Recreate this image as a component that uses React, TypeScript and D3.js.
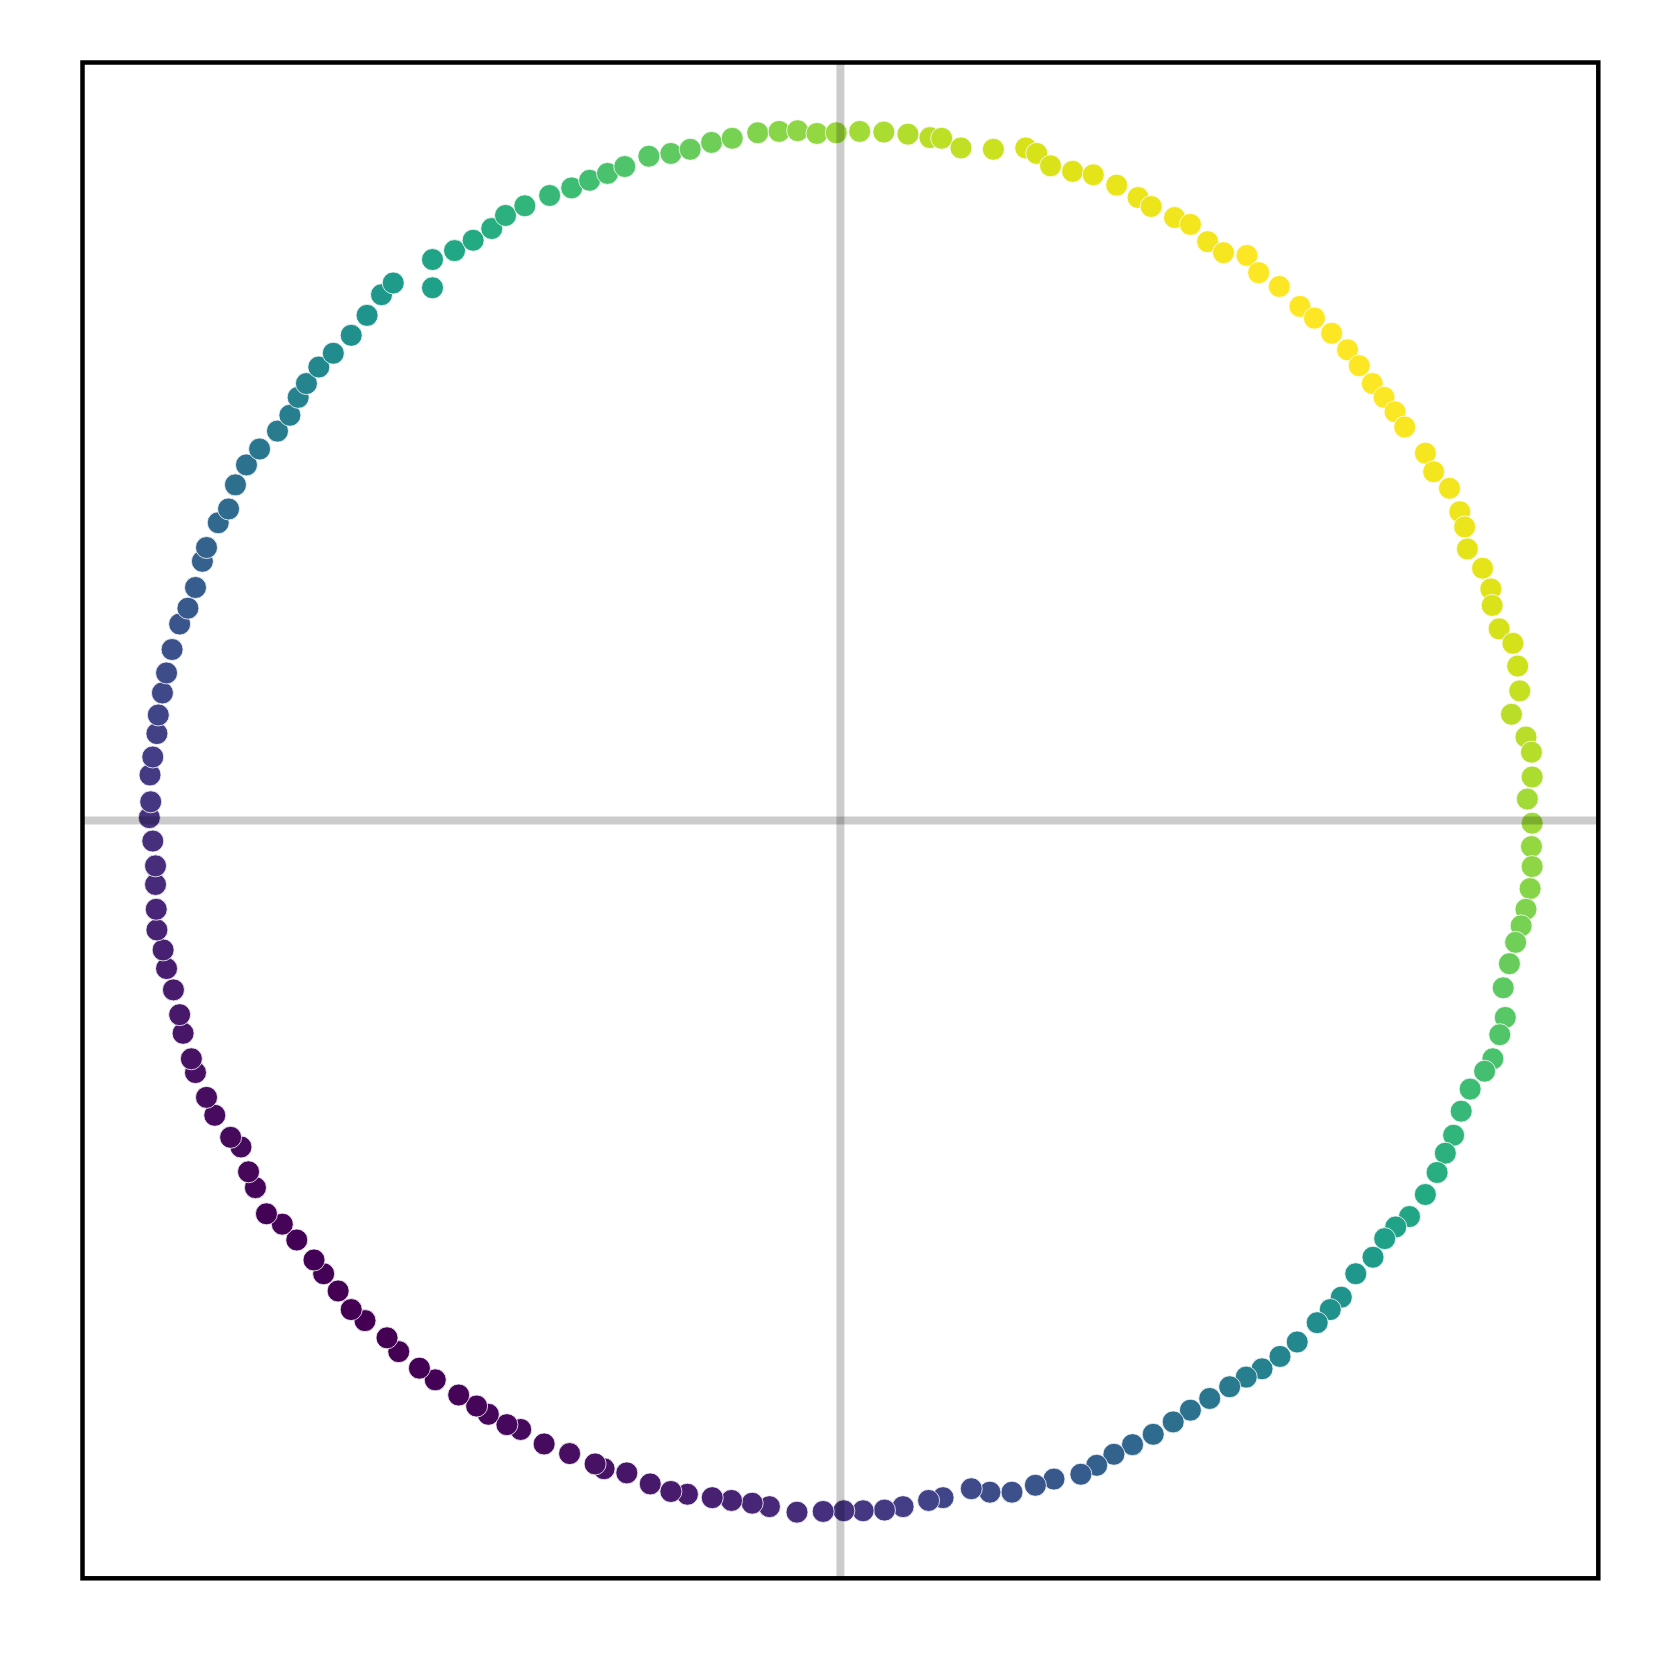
import React from 'react';
import * as d3 from 'd3';

// x / y coordinates of the points (data units)
const xs = [
  -0.120, -0.089, -0.062, -0.034, -0.006, 0.028, 0.063, 0.098, 0.130, 0.147,
  0.175, 0.222, 0.269, 0.285, 0.305, 0.337, 0.367, 0.401, 0.432, 0.451,
  0.485, 0.508, 0.533, 0.556, 0.590, 0.607, 0.637, 0.667, 0.688, 0.713,
  0.736, 0.753, 0.772, 0.789, 0.805, 0.819, 0.849, 0.861, 0.884, 0.899,
  0.906, 0.910, 0.932, 0.944, 0.946, 0.956, 0.976, 0.983, 0.986, 0.974,
  0.995, 1.003, 1.004, 0.997, 1.004, 1.003, 1.004, 1.001, 0.995, 0.988,
  0.980, 0.971, 0.962, 0.965, 0.957, 0.947, 0.935, 0.914, 0.901, 0.890,
  0.878, 0.866, 0.849, 0.826, 0.806, 0.790, 0.773, 0.748, 0.727, 0.711,
  0.692, 0.663, 0.638, 0.612, 0.589, 0.565, 0.536, 0.508, 0.483, 0.454,
  0.424, 0.397, 0.372, 0.349, 0.310, 0.283, 0.249, 0.217, 0.190, 0.149,
  0.128, 0.091, 0.064, 0.033, 0.005, -0.025, -0.063, -0.103, -0.128, -0.158,
  -0.186, -0.222, -0.246, -0.276, -0.310, -0.343, -0.356, -0.393, -0.430, -0.464,
  -0.484, -0.511, -0.528, -0.554, -0.588, -0.611, -0.641, -0.658, -0.690, -0.710,
  -0.729, -0.750, -0.764, -0.789, -0.810, -0.833, -0.849, -0.859, -0.870, -0.885,
  -0.908, -0.920, -0.936, -0.942, -0.954, -0.959, -0.968, -0.978, -0.983, -0.992,
  -0.993, -0.994, -0.994, -0.998, -1.003, -1.001, -1.002, -0.998, -0.992, -0.990,
  -0.984, -0.978, -0.970, -0.959, -0.947, -0.936, -0.926, -0.920, -0.903, -0.888,
  -0.878, -0.862, -0.843, -0.817, -0.799, -0.787, -0.775, -0.757, -0.736, -0.710,
  -0.687, -0.666, -0.649, -0.592, -0.592, -0.560, -0.533, -0.506, -0.486, -0.458,
  -0.422, -0.390, -0.364, -0.338, -0.313, -0.278, -0.246, -0.218, -0.187, -0.157,
];

const ys = [
  0.998, 1.000, 1.001, 0.997, 0.998, 1.000, 0.999, 0.996, 0.991, 0.990,
  0.976, 0.974, 0.976, 0.968, 0.950, 0.942, 0.937, 0.922, 0.904, 0.891,
  0.875, 0.865, 0.840, 0.824, 0.820, 0.795, 0.775, 0.746, 0.729, 0.707,
  0.683, 0.660, 0.634, 0.614, 0.593, 0.571, 0.533, 0.506, 0.482, 0.448,
  0.426, 0.394, 0.366, 0.336, 0.312, 0.278, 0.257, 0.224, 0.188, 0.154,
  0.121, 0.099, 0.063, 0.031, -0.004, -0.038, -0.067, -0.099, -0.129, -0.153,
  -0.177, -0.208, -0.243, -0.286, -0.311, -0.346, -0.364, -0.390, -0.422, -0.457,
  -0.483, -0.511, -0.543, -0.575, -0.590, -0.607, -0.634, -0.658, -0.692, -0.710,
  -0.729, -0.757, -0.778, -0.796, -0.808, -0.822, -0.839, -0.856, -0.873, -0.891,
  -0.906, -0.920, -0.936, -0.949, -0.956, -0.965, -0.975, -0.975, -0.970, -0.983,
  -0.987, -0.996, -1.001, -1.002, -1.002, -1.003, -1.004, -0.996, -0.991, -0.987,
  -0.983, -0.978, -0.974, -0.963, -0.947, -0.941, -0.934, -0.919, -0.905, -0.884,
  -0.877, -0.862, -0.850, -0.834, -0.812, -0.795, -0.771, -0.751, -0.726, -0.710,
  -0.683, -0.658, -0.638, -0.609, -0.586, -0.571, -0.533, -0.510, -0.474, -0.460,
  -0.428, -0.402, -0.366, -0.346, -0.309, -0.282, -0.246, -0.215, -0.188, -0.159,
  -0.129, -0.093, -0.066, -0.030, 0.004, 0.027, 0.066, 0.092, 0.126, 0.153,
  0.185, 0.214, 0.248, 0.285, 0.308, 0.338, 0.376, 0.396, 0.432, 0.452,
  0.487, 0.516, 0.539, 0.565, 0.588, 0.614, 0.634, 0.658, 0.678, 0.704,
  0.733, 0.763, 0.780, 0.773, 0.814, 0.827, 0.842, 0.859, 0.878, 0.892,
  0.907, 0.918, 0.929, 0.939, 0.949, 0.964, 0.968, 0.974, 0.984, 0.990,
];

const domain = [-1.1, 1.1];

const App = () => {
  const width = 1661;
  const height = 1661;
  const box = { left: 82.5, right: 1598.3, top: 62.5, bottom: 1578.3 };

  const x = d3.scaleLinear().domain(domain).range([box.left, box.right]);
  const y = d3.scaleLinear().domain(domain).range([box.bottom, box.top]);

  const points = xs.map((v, i) => ({ x: v, y: ys[i], c: v + ys[i] }));
  const color = d3.scaleSequential(d3.interpolateViridis)
    .domain(d3.extent(points, d => d.c));

  return (
    <svg width={width} height={height}
      style={{ position: 'absolute', left: 0, top: 0, background: 'white' }}>
      <rect x={0} y={0} width={width} height={height} fill="white" />
      <defs>
        <clipPath id="plot">
          <rect x={box.left} y={box.top} width={box.right - box.left} height={box.bottom - box.top} />
        </clipPath>
      </defs>
      <g clipPath="url(#plot)">
        {points.map((d, i) => (
          <circle key={i} cx={x(d.x)} cy={y(d.y)} r={11}
            fill={color(d.c)} stroke="white" strokeWidth={0.8} />
        ))}
        {/* zero lines */}
        <line x1={x(0)} x2={x(0)} y1={box.top} y2={box.bottom}
          stroke="black" strokeOpacity={0.2} strokeWidth={8} />
        <line x1={box.left} x2={box.right} y1={y(0)} y2={y(0)}
          stroke="black" strokeOpacity={0.2} strokeWidth={8} />
      </g>
      <rect x={box.left} y={box.top} width={box.right - box.left} height={box.bottom - box.top}
        fill="none" stroke="black" strokeWidth={4.5} />
    </svg>
  );
};

export default App;
